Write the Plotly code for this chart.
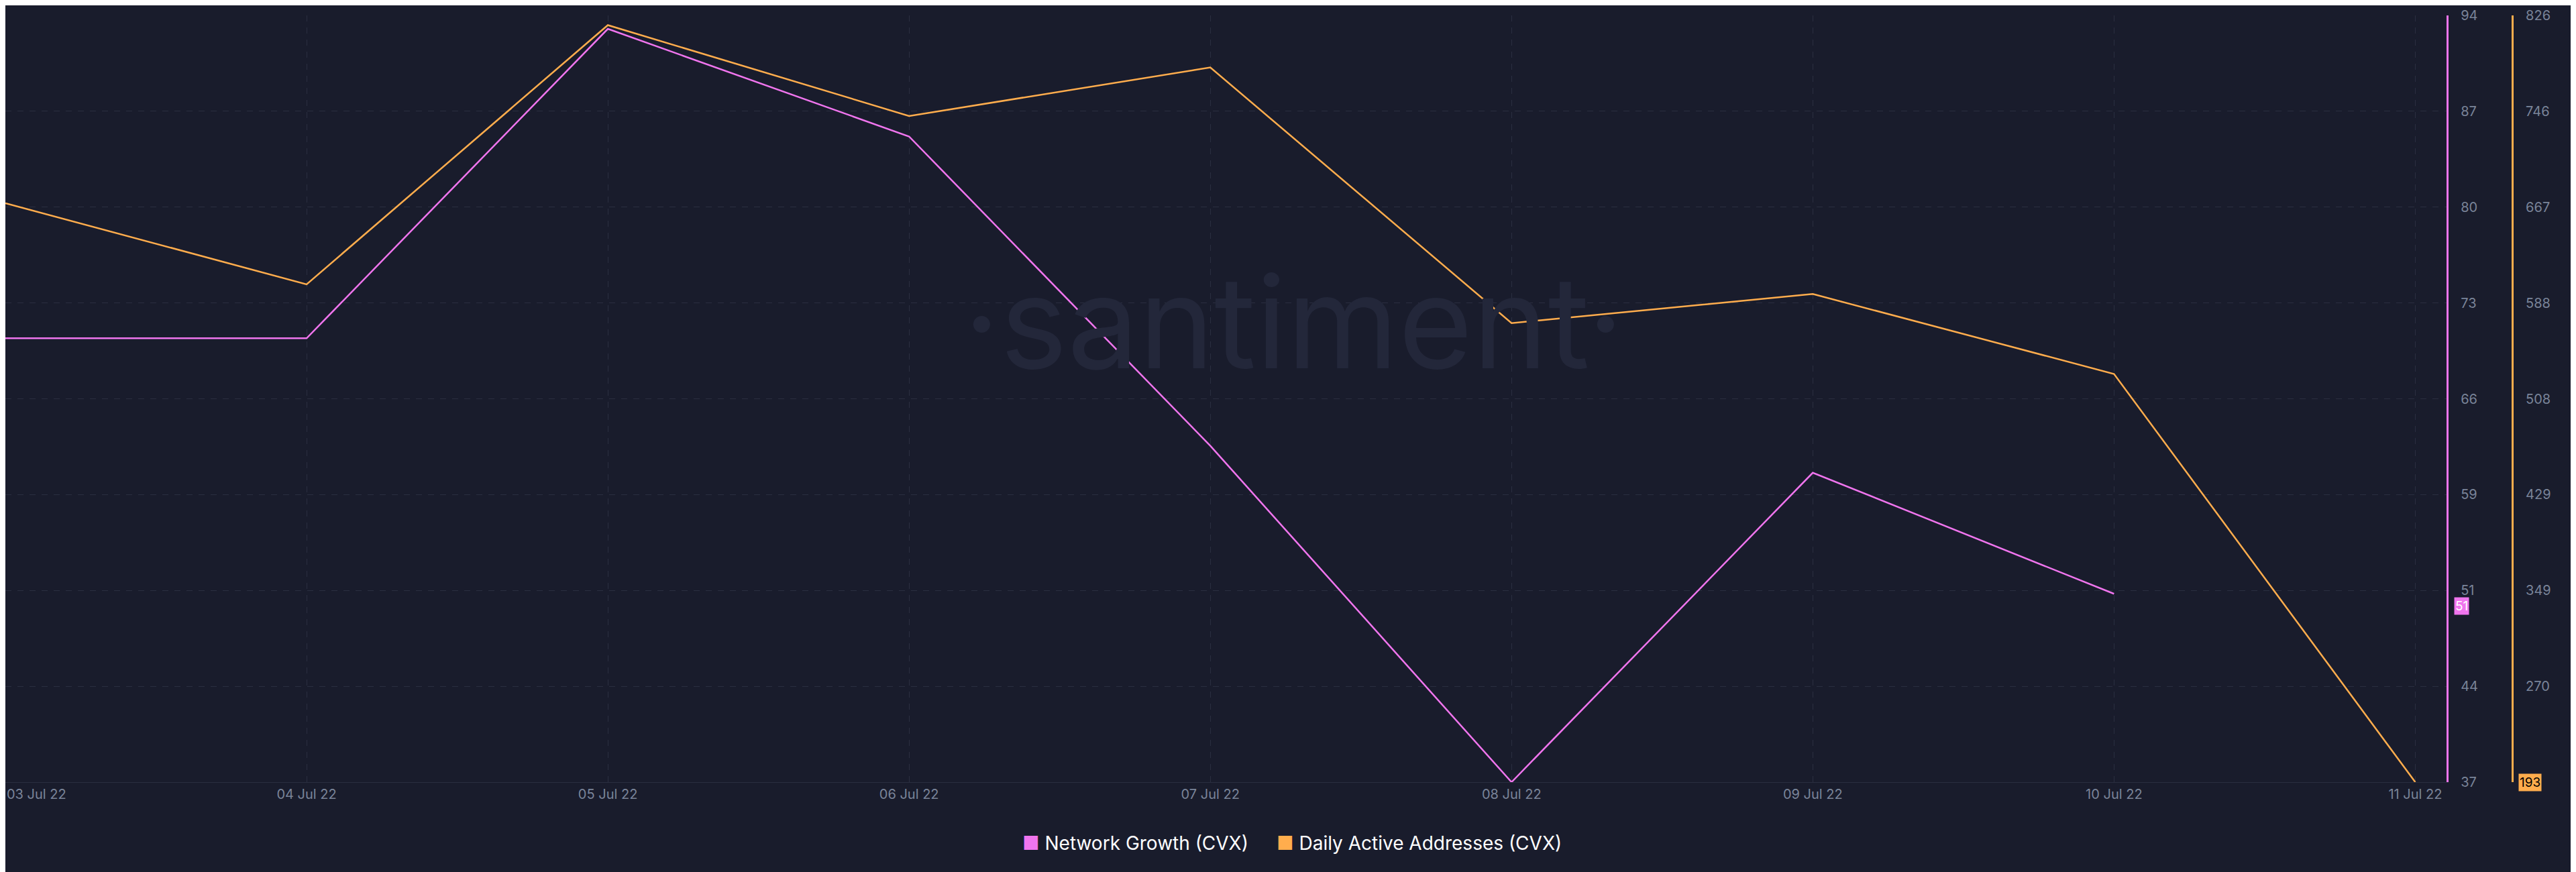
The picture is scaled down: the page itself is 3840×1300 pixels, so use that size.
import plotly.graph_objects as go

dates = ['2022-07-03', '2022-07-04', '2022-07-05', '2022-07-06', '2022-07-07',
         '2022-07-08', '2022-07-09', '2022-07-10', '2022-07-11']
date_labels = ['03 Jul 22', '04 Jul 22', '05 Jul 22', '06 Jul 22', '07 Jul 22',
               '08 Jul 22', '09 Jul 22', '10 Jul 22', '11 Jul 22']
network_growth = [70, 70, 93, 85, 62, 37, 60, 51]
daily_active = [671, 604, 818, 743, 783, 572, 596, 530, 193]

ng_ticks = [37, 44.125, 51.25, 58.375, 65.5, 72.625, 79.75, 86.875, 94]
ng_text = ['37', '44', '51', '59', '66', '73', '80', '87', '94']
daa_ticks = [272.1, 351.25, 430.4, 509.5, 588.6, 667.75, 746.9, 826]
daa_text = ['270', '349', '429', '508', '588', '667', '746', '826']

PINK = '#f075ee'
ORANGE = '#ffad4d'
BG = '#191c2c'
TICK = '#7a8499'

fig = go.Figure()
fig.add_scatter(x=dates[:len(network_growth)], y=network_growth, mode='lines',
                line=dict(color=PINK, width=2.5), name='Network Growth (CVX)', yaxis='y')
fig.add_scatter(x=dates, y=daily_active, mode='lines',
                line=dict(color=ORANGE, width=2.5), name='Daily Active Addresses (CVX)', yaxis='y2')

fig.update_layout(
    width=3840, height=1300,
    paper_bgcolor=BG, plot_bgcolor=BG,
    margin=dict(l=0, r=0, t=15, b=142, autoexpand=False),
    font=dict(family='Inter', color=TICK, size=20),
    showlegend=False,
    xaxis=dict(domain=[0, 0.9477], type='date', automargin=False,
               range=['2022-07-03', '2022-07-11 02:30'],
               tickvals=dates[1:], ticktext=date_labels[1:], showgrid=True,
               gridcolor='#2a2e40', griddash='dash', zeroline=False,
               showline=True, linecolor='#2a2e40', ticks=''),
    yaxis=dict(side='right', range=[37, 94], tickvals=ng_ticks, ticktext=ng_text,
               showline=True, linecolor=PINK, linewidth=3, showgrid=True,
               gridcolor='#2a2e40', griddash='dash', zeroline=False, ticklabelstandoff=14),
    yaxis2=dict(side='right', overlaying='y', anchor='free', position=0.9732,
                range=[193, 826], tickvals=daa_ticks, ticktext=daa_text,
                showline=True, linecolor=ORANGE, linewidth=3, showgrid=False,
                zeroline=False, ticklabelstandoff=14),
)

# first date label sits at the left edge, so draw it left-anchored
fig.add_annotation(text=date_labels[0], xref='x', yref='paper', x=dates[0], xanchor='left',
                   y=0, yanchor='top', yshift=-4, showarrow=False,
                   font=dict(size=20, color=TICK))

fig.add_annotation(text='·santiment·', xref='paper', yref='paper', x=0.5, y=0.6,
                   showarrow=False, font=dict(size=190, color='#23273a', family='Inter'))
fig.add_annotation(text='51', xref='paper', yref='y', x=0.9505, xanchor='left', y=network_growth[-1],
                   yshift=-18, showarrow=False, bgcolor=PINK, borderpad=1,
                   font=dict(size=19, color='white'))
fig.add_annotation(text='193', xref='paper', yref='y2', x=0.9755, xanchor='left', y=daily_active[-1],
                   showarrow=False, bgcolor=ORANGE, borderpad=1, font=dict(size=19, color='black'))

# legend drawn as text with square swatches
fig.add_annotation(text='<span style="color:%s">■</span> Network Growth (CVX)' % PINK,
                   xref='paper', yref='paper', x=0.483, xanchor='right', y=-0.08, yanchor='middle',
                   showarrow=False, font=dict(size=28, color='white'))
fig.add_annotation(text='<span style="color:%s">■</span> Daily Active Addresses (CVX)' % ORANGE,
                   xref='paper', yref='paper', x=0.493, xanchor='left', y=-0.08, yanchor='middle',
                   showarrow=False, font=dict(size=28, color='white'))

fig.write_html('out.html')
